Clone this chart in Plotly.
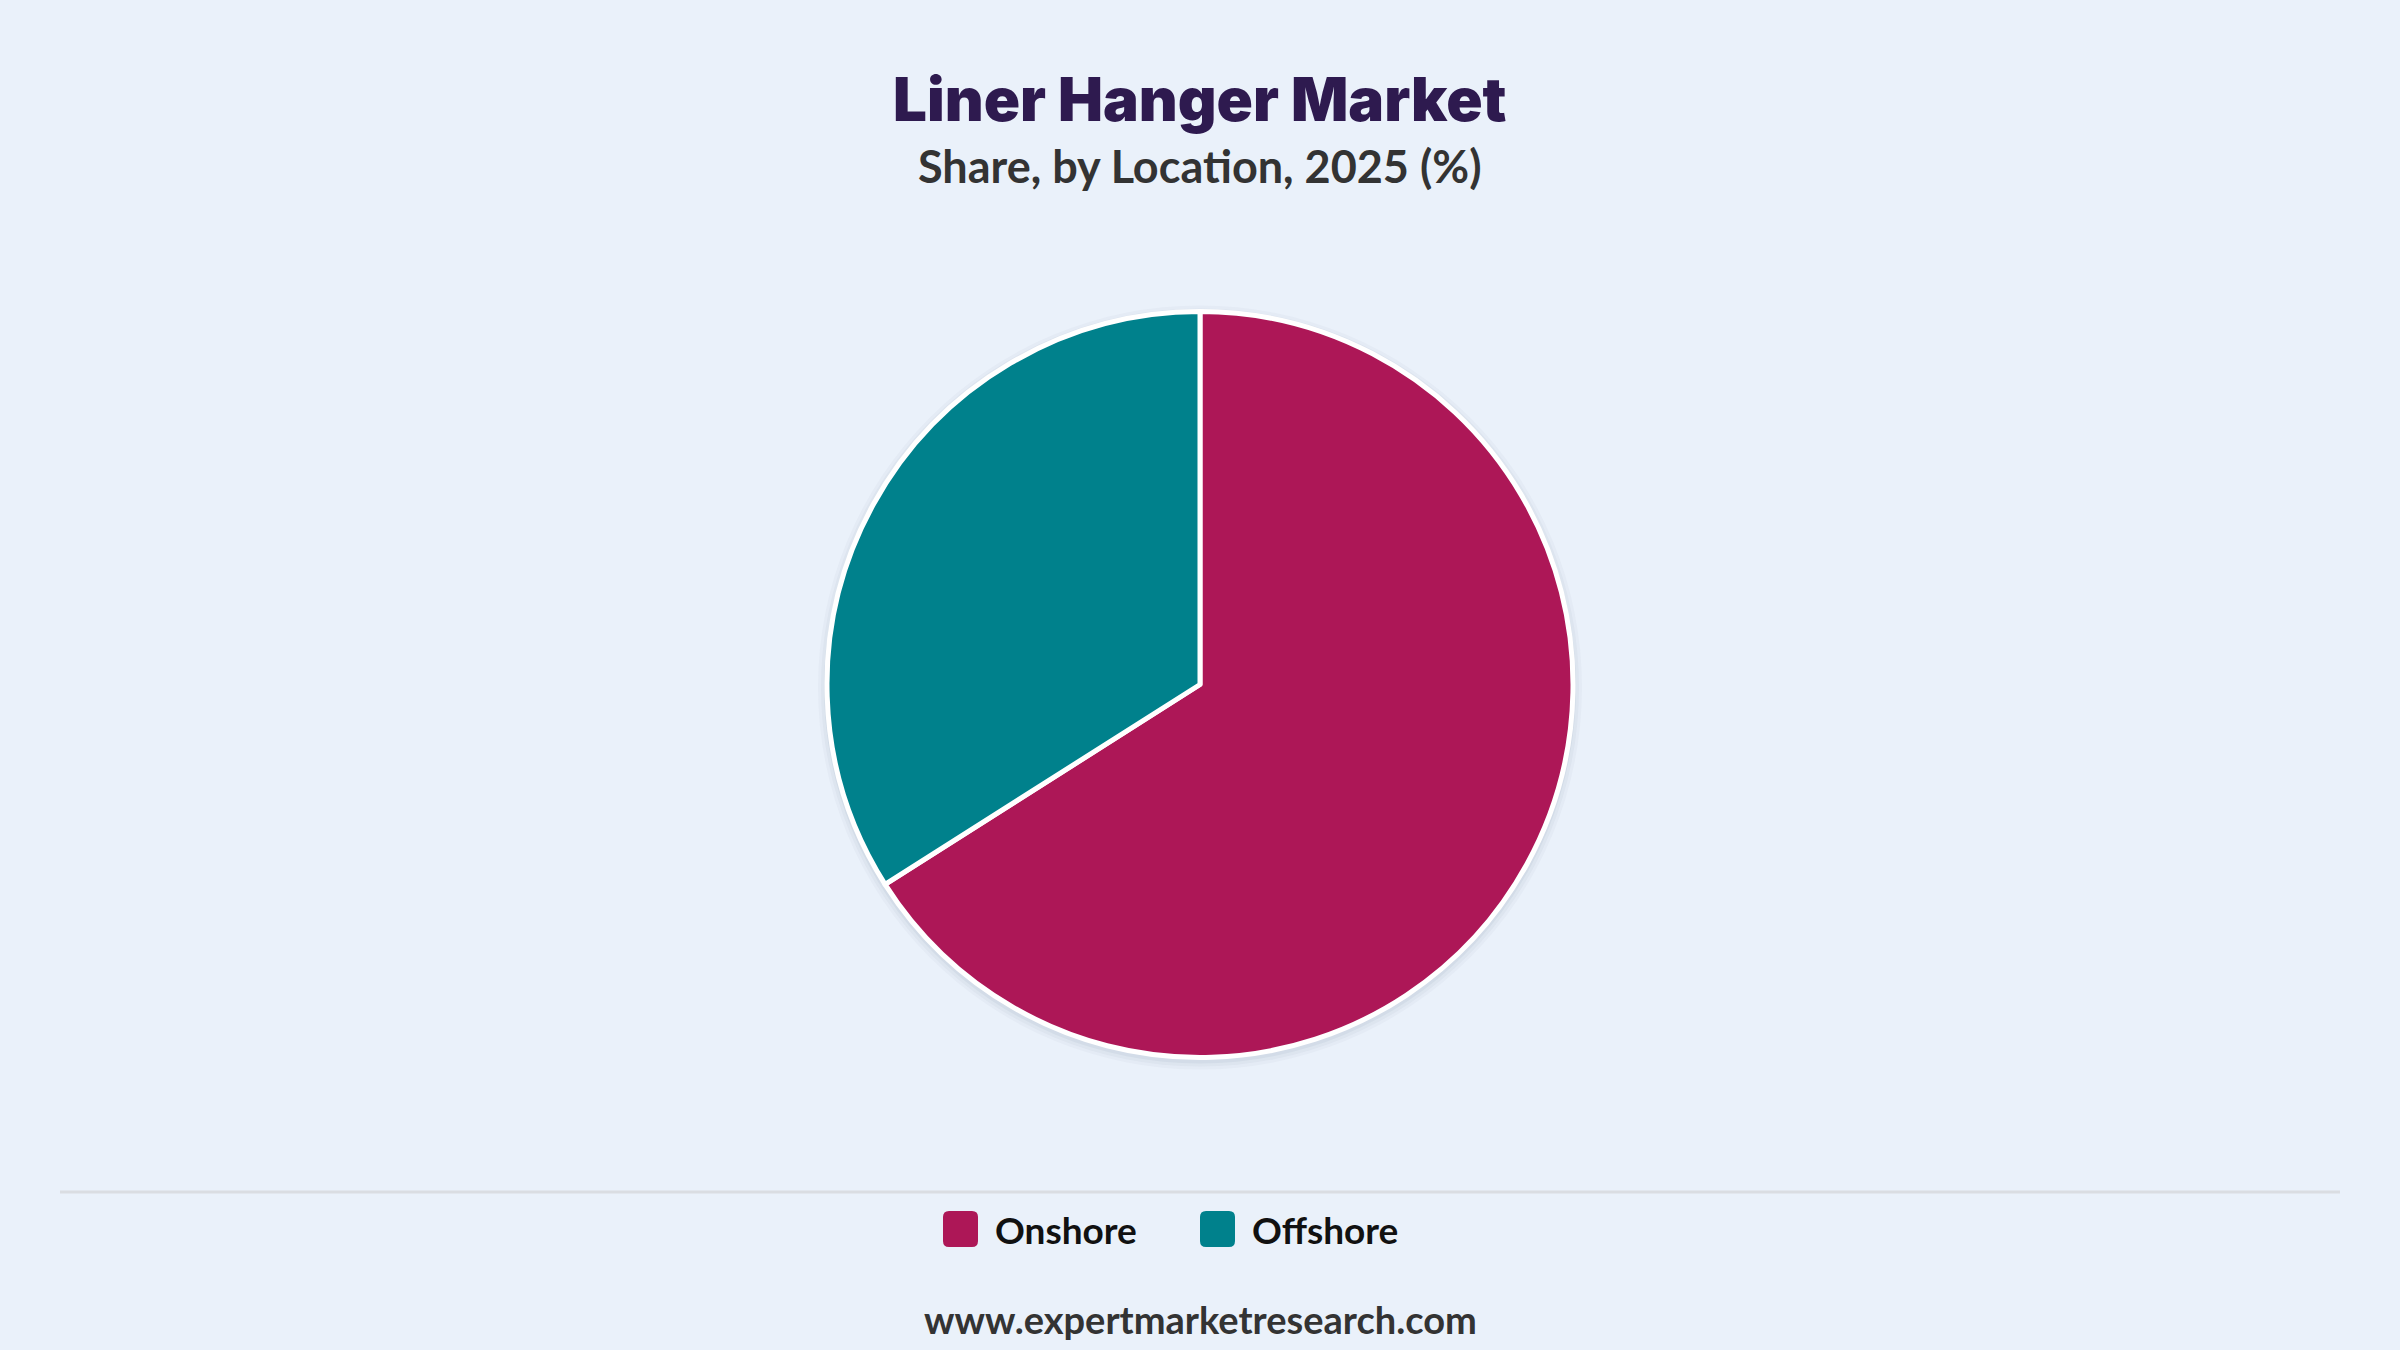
import plotly.graph_objects as go

# chart data
locations = ["Onshore", "Offshore"]
shares = [66, 34]
colors = ["#AD1757", "#00818C"]

title_text = "Liner Hanger Market"
subtitle_text = "Share, by Location, 2025 (%)"
source_text = "www.expertmarketresearch.com"

W, H = 2400, 1350
BG = "#EAF1FA"


def px_x(x):
    return x / W


def px_y(y):
    return 1 - y / H


def rounded_rect(x0, y0, x1, y1, r):
    # path in paper coords, built from pixel values
    pts = [
        f"M {px_x(x0 + r)},{px_y(y0)}",
        f"L {px_x(x1 - r)},{px_y(y0)}",
        f"Q {px_x(x1)},{px_y(y0)} {px_x(x1)},{px_y(y0 + r)}",
        f"L {px_x(x1)},{px_y(y1 - r)}",
        f"Q {px_x(x1)},{px_y(y1)} {px_x(x1 - r)},{px_y(y1)}",
        f"L {px_x(x0 + r)},{px_y(y1)}",
        f"Q {px_x(x0)},{px_y(y1)} {px_x(x0)},{px_y(y1 - r)}",
        f"L {px_x(x0)},{px_y(y0 + r)}",
        f"Q {px_x(x0)},{px_y(y0)} {px_x(x0 + r)},{px_y(y0)}",
        "Z",
    ]
    return " ".join(pts)


fig = go.Figure()

fig.add_trace(go.Pie(
    labels=locations,
    values=shares,
    marker=dict(colors=colors, line=dict(color="white", width=5)),
    sort=False,
    direction="clockwise",
    rotation=0,
    textinfo="none",
    hovertemplate="%{label}: %{value}%<extra></extra>",
    domain=dict(x=[827 / W, 1573 / W], y=[1 - 1058 / H, 1 - 311 / H]),
    showlegend=False,
))

shapes = []

# soft shadow under the pie
cx, cy, r = 1200, 684.5, 373
for grow, alpha in [(9, 0.04), (6, 0.05), (3, 0.07)]:
    shapes.append(dict(
        type="circle", xref="paper", yref="paper", layer="below",
        x0=px_x(cx - r - grow), x1=px_x(cx + r + grow),
        y0=px_y(cy + r + grow + 3), y1=px_y(cy - r - grow + 3),
        fillcolor=f"rgba(90,110,140,{alpha})", line=dict(width=0),
    ))

# separator line above legend
shapes.append(dict(
    type="line", xref="paper", yref="paper",
    x0=px_x(60), x1=px_x(2340), y0=px_y(1192), y1=px_y(1192),
    line=dict(color="#DADDE2", width=3),
))

annotations = [
    dict(text=title_text, x=0.5, y=px_y(99), xref="paper", yref="paper",
         showarrow=False, xanchor="center", yanchor="middle",
         font=dict(family="Inter", size=60, color="#2E1A4F", weight=900)),
    dict(text=f"<b>{subtitle_text}</b>", x=0.5, y=px_y(166), xref="paper", yref="paper",
         showarrow=False, xanchor="center", yanchor="middle",
         font=dict(family="Lato", size=45, color="#333333")),
    dict(text=f"<b>{source_text}</b>", x=0.5, y=px_y(1319), xref="paper", yref="paper",
         showarrow=False, xanchor="center", yanchor="middle",
         font=dict(family="Lato", size=38, color="#333333")),
]

# legend drawn by hand so swatches can be large rounded squares
legend_x = [943, 1200]
for name, col, lx in zip(locations, colors, legend_x):
    shapes.append(dict(
        type="path", xref="paper", yref="paper",
        path=rounded_rect(lx, 1211, lx + 35, 1247, 6),
        fillcolor=col, line=dict(width=0),
    ))
    annotations.append(dict(
        text=f"<b>{name}</b>", x=px_x(lx + 50), y=px_y(1229), xref="paper", yref="paper",
        showarrow=False, xanchor="left", yanchor="middle",
        font=dict(family="Lato", size=37, color="#111111"),
    ))

fig.update_layout(
    width=W, height=H,
    margin=dict(l=0, r=0, t=0, b=0),
    paper_bgcolor=BG,
    plot_bgcolor=BG,
    shapes=shapes,
    annotations=annotations,
)

fig.write_html("out.html", config={"displayModeBar": False},
               post_script="document.body.style.margin='0';")
